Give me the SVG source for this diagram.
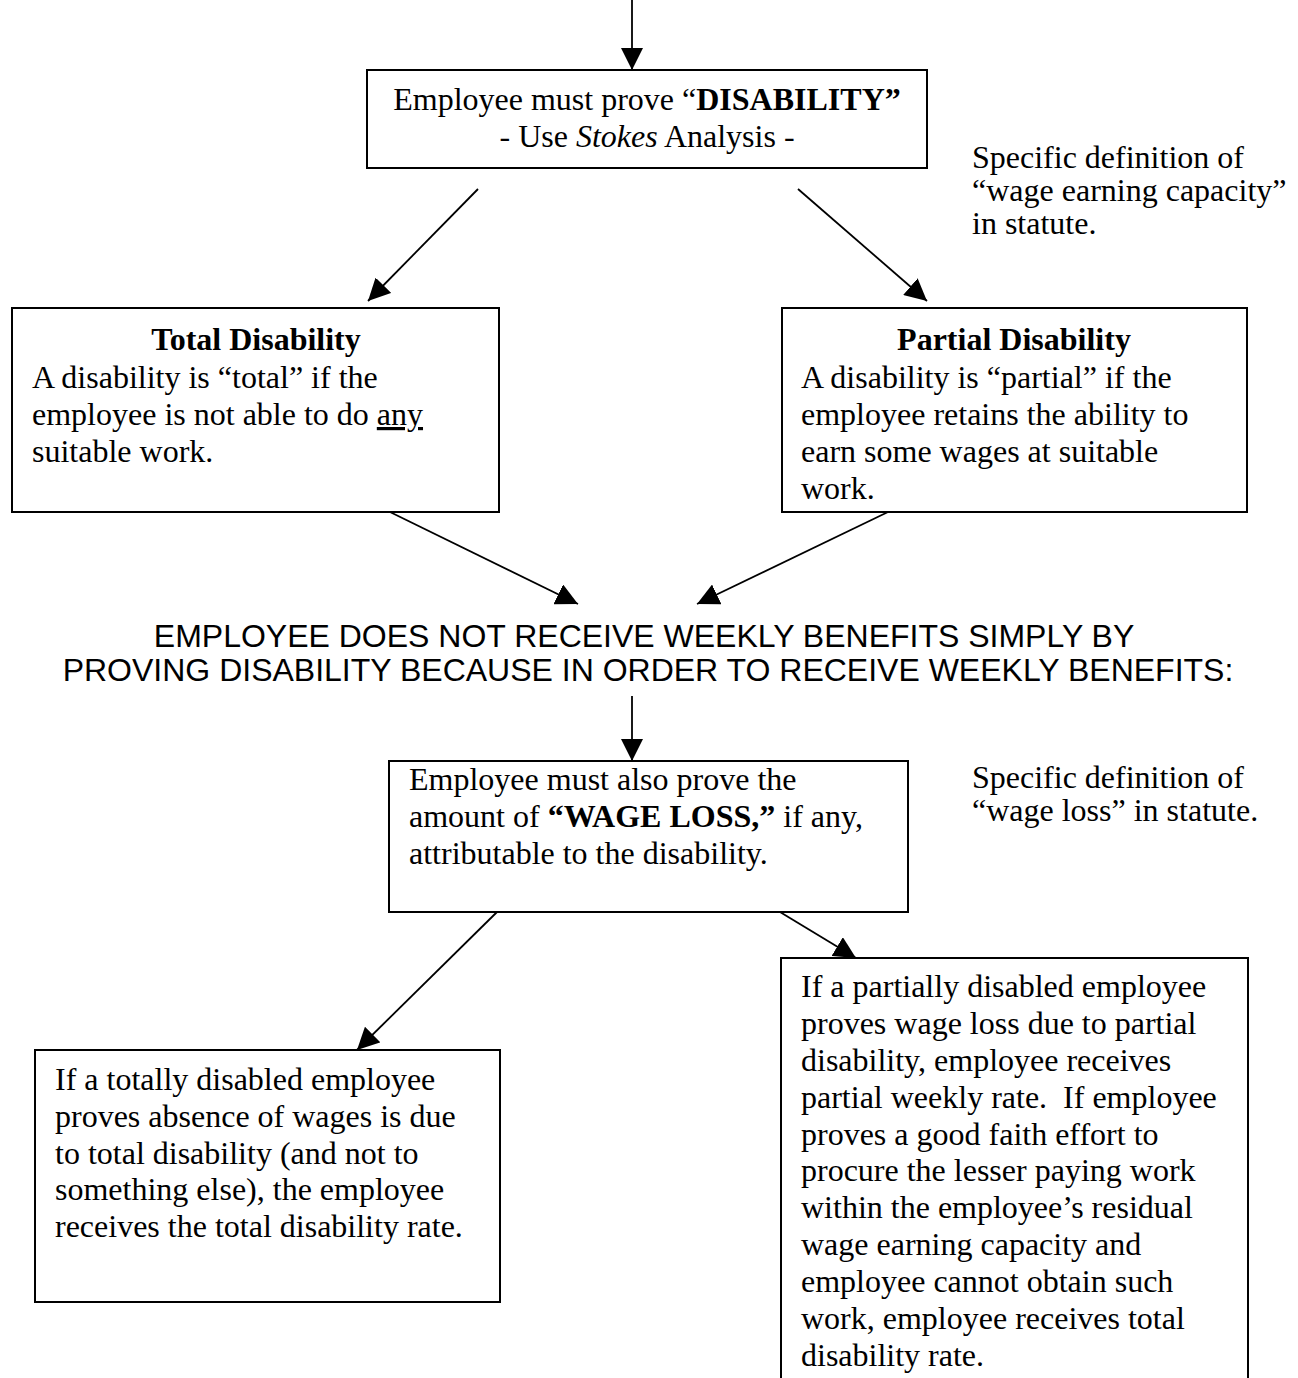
<svg xmlns="http://www.w3.org/2000/svg" width="1298" height="1378" viewBox="0 0 1298 1378">
<style>
.box{fill:#fff;stroke:#000;stroke-width:2}
.t{font-family:"Liberation Serif","Times New Roman",serif;font-size:32px;fill:#000}
.s{font-family:"Liberation Sans",Arial,sans-serif;font-size:32px;fill:#000}
.c{text-anchor:middle}
.b{font-weight:bold}
.conn line{stroke:#000;stroke-width:1.8;marker-end:url(#ah)}
</style>
<defs>
<marker id="ah" markerUnits="userSpaceOnUse" markerWidth="22" markerHeight="22" refX="20" refY="10" orient="auto" viewBox="0 0 20 20">
<path d="M0,0 L20,10 L0,20 z" fill="#000"/>
</marker>
</defs>
<rect width="1298" height="1378" fill="#fff"/>
<g id="connectors" class="conn">
<line x1="632" y1="0" x2="632" y2="70"/>
<line x1="478" y1="189" x2="368" y2="301"/>
<line x1="798" y1="189" x2="927" y2="301"/>
<line x1="390" y1="512" x2="578" y2="604"/>
<line x1="888" y1="512" x2="697" y2="604"/>
<line x1="632" y1="696" x2="632" y2="761"/>
<line x1="497" y1="912" x2="357" y2="1050"/>
<line x1="780" y1="912" x2="856" y2="958"/>
</g>
<g id="n-disability">
<rect class="box" x="367" y="70" width="560" height="98"/>
<text class="t c" x="647" y="110">Employee must prove “<tspan class="b">DISABILITY”</tspan></text>
<text class="t c" x="647" y="147">- Use <tspan font-style="italic">Stokes</tspan> Analysis -</text>
</g>
<g id="n-note1">
<text class="t" x="972" y="168">Specific definition of</text>
<text class="t" x="972" y="201">“wage earning capacity”</text>
<text class="t" x="972" y="234">in statute.</text>
</g>
<g id="n-total">
<rect class="box" x="12" y="308" width="487" height="204"/>
<text class="t c b" x="256" y="350">Total Disability</text>
<text class="t" x="32" y="388">A disability is “total” if the</text>
<text class="t" x="32" y="425">employee is not able to do <tspan text-decoration="underline">any</tspan></text>
<text class="t" x="32" y="462">suitable work.</text>
</g>
<g id="n-partial">
<rect class="box" x="782" y="308" width="465" height="204"/>
<text class="t c b" x="1014" y="350">Partial Disability</text>
<text class="t" x="801" y="388">A disability is “partial” if the</text>
<text class="t" x="801" y="425">employee retains the ability to</text>
<text class="t" x="801" y="462">earn some wages at suitable</text>
<text class="t" x="801" y="499">work.</text>
</g>
<g id="n-statement">
<text class="s c" x="644" y="647">EMPLOYEE DOES NOT RECEIVE WEEKLY BENEFITS SIMPLY BY</text>
<text class="s c" x="648" y="681">PROVING DISABILITY BECAUSE IN ORDER TO RECEIVE WEEKLY BENEFITS:</text>
</g>
<g id="n-wageloss">
<rect class="box" x="389" y="761" width="519" height="151"/>
<text class="t" x="409" y="790">Employee must also prove the</text>
<text class="t" x="409" y="827">amount of <tspan class="b">“WAGE LOSS,”</tspan> if any,</text>
<text class="t" x="409" y="864">attributable to the disability.</text>
</g>
<g id="n-note2">
<text class="t" x="972" y="788">Specific definition of</text>
<text class="t" x="972" y="821">“wage loss” in statute.</text>
</g>
<g id="n-totalrate">
<rect class="box" x="35" y="1050" width="465" height="252"/>
<text class="t" x="55" y="1090">If a totally disabled employee</text>
<text class="t" x="55" y="1127">proves absence of wages is due</text>
<text class="t" x="55" y="1164">to total disability (and not to</text>
<text class="t" x="55" y="1200">something else), the employee</text>
<text class="t" x="55" y="1237">receives the total disability rate.</text>
</g>
<g id="n-partialrate">
<rect class="box" x="781" y="958" width="467" height="440"/>
<text class="t" x="801" y="997">If a partially disabled employee</text>
<text class="t" x="801" y="1034">proves wage loss due to partial</text>
<text class="t" x="801" y="1071">disability, employee receives</text>
<text class="t" x="801" y="1108" xml:space="preserve">partial weekly rate.  If employee</text>
<text class="t" x="801" y="1145">proves a good faith effort to</text>
<text class="t" x="801" y="1181">procure the lesser paying work</text>
<text class="t" x="801" y="1218">within the employee’s residual</text>
<text class="t" x="801" y="1255">wage earning capacity and</text>
<text class="t" x="801" y="1292">employee cannot obtain such</text>
<text class="t" x="801" y="1329">work, employee receives total</text>
<text class="t" x="801" y="1366">disability rate.</text>
</g>
</svg>
